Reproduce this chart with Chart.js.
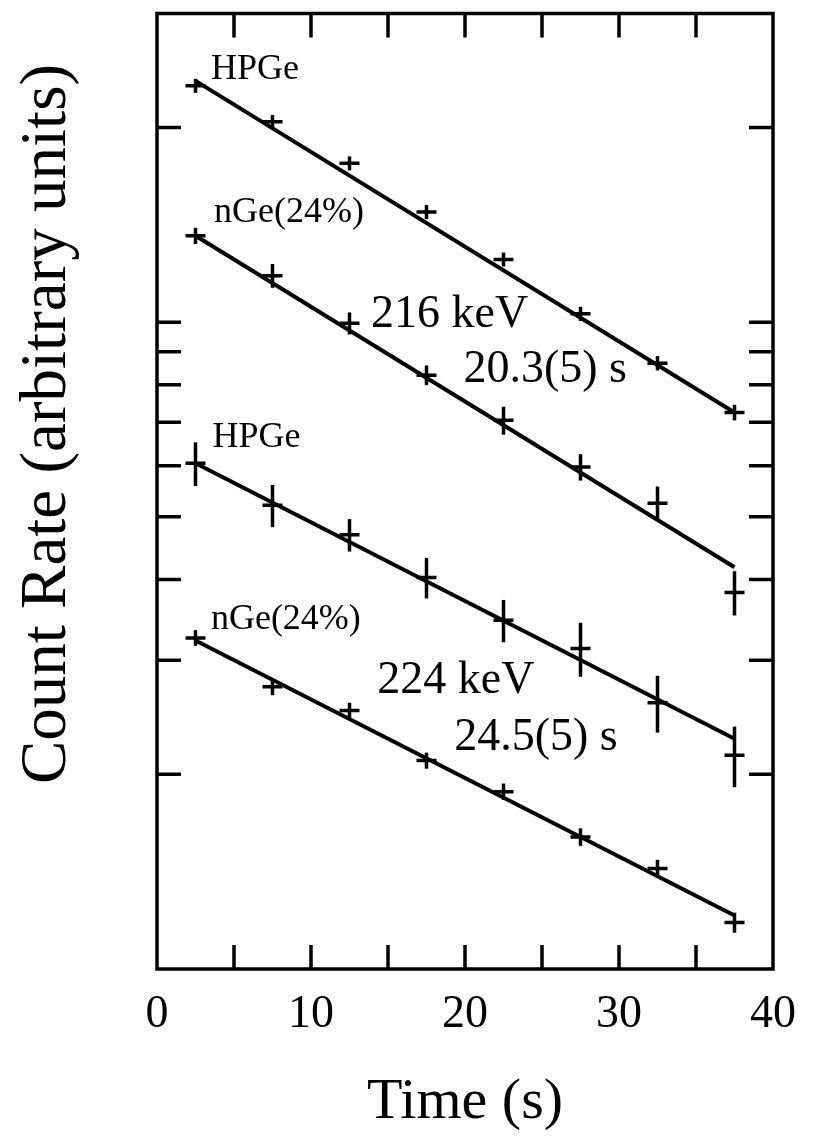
<!DOCTYPE html>
<html>
<head>
<meta charset="utf-8">
<script src="https://cdn.jsdelivr.net/npm/chart.js@4.4.1/dist/chart.umd.min.js"></script>
<style>
html,body{margin:0;padding:0;background:#fff;}
</style>
</head>
<body>
<canvas id="decayChart" width="814" height="1146"></canvas>
<script>
// time bins (s)
const times = [2.5, 7.5, 12.5, 17.5, 22.5, 27.5, 32.5, 37.5];

// 216 keV line
const hpge216 = [23.2, 20.4, 17.6, 14.8, 12.5, 10.3, 8.64, 7.25];
const hpge216Err = [0.58, 0.51, 0.44, 0.37, 0.31, 0.26, 0.22, 0.2];
const nge216 = [13.6, 11.8, 9.96, 8.28, 7.05, 5.97, 5.25, 3.82];
const nge216Err = [0.39, 0.5, 0.39, 0.29, 0.35, 0.28, 0.32, 0.3];

// 224 keV line
const hpge224 = [6.05, 5.21, 4.69, 4.03, 3.46, 3.13, 2.58, 2.14];
const hpge224Err = [0.47, 0.39, 0.27, 0.29, 0.26, 0.3, 0.26, 0.23];
const nge224 = [3.25, 2.73, 2.51, 2.1, 1.88, 1.6, 1.43, 1.18];
const nge224Err = [0.09, 0.08, 0.07, 0.06, 0.055, 0.05, 0.045, 0.042];

// fitted decay lines, end points at first and last bin
const fitTimes = [2.5, 37.5];
const fitHpge216 = [23.6, 7.25];
const fitNge216 = [13.6, 4.18];
const fitHpge224 = [6.05, 2.27];
const fitNge224 = [3.22, 1.21];

const xTicks = [5, 10, 15, 20, 25, 30, 35];
const xLabels = [0, 10, 20, 30, 40];
const yTicks = [2, 3, 4, 5, 6, 7, 8, 9, 10, 20];

const notes = [
{text:"HPGe", x:3.5, y:23.8, size:36},
{text:"nGe(24%)", x:3.7, y:14.3, size:36},
{text:"216 keV", x:13.9, y:9.82, size:46},
{text:"20.3(5) s", x:19.9, y:8.07, size:46},
{text:"HPGe", x:3.6, y:6.41, size:36},
{text:"nGe(24%)", x:3.5, y:3.36, size:36},
{text:"224 keV", x:14.3, y:2.67, size:46},
{text:"24.5(5) s", x:19.3, y:2.18, size:46}
];

const serif = "'Liberation Serif', 'Times New Roman', serif";

function points(xs, ys){
return xs.map((x,i)=>({x:x, y:ys[i]}));
}

function pointSet(ys, errs){
return {
data:points(times, ys),
errors:errs,
showLine:false,
pointStyle:"line",
pointRadius:10,
pointBorderWidth:3.5,
borderColor:"#000",
backgroundColor:"#000"
};
}

function fitSet(ys){
return {
data:points(fitTimes, ys),
showLine:true,
pointRadius:0,
borderWidth:4,
borderColor:"#000",
fill:false
};
}

const decorPlugin = {
id:"decor",
afterDatasetsDraw(chart){
const ctx = chart.ctx;
const xs = chart.scales.x;
const ys = chart.scales.y;
ctx.save();
ctx.strokeStyle = "#000";
ctx.lineWidth = 3.5;
chart.data.datasets.forEach(ds=>{
if(!ds.errors) return;
ds.data.forEach((p,i)=>{
const px = xs.getPixelForValue(p.x);
const top = ys.getPixelForValue(p.y + ds.errors[i]);
const bot = ys.getPixelForValue(p.y - ds.errors[i]);
ctx.beginPath();
ctx.moveTo(px, top);
ctx.lineTo(px, bot);
ctx.stroke();
});
});
ctx.restore();
},
afterDraw(chart){
const ctx = chart.ctx;
const a = chart.chartArea;
const xs = chart.scales.x;
const ys = chart.scales.y;
const tl = 24;
ctx.save();
ctx.strokeStyle = "#000";
ctx.lineWidth = 3.5;
ctx.strokeRect(a.left, a.top, a.right - a.left, a.bottom - a.top);
ctx.beginPath();
xTicks.forEach(v=>{
const px = xs.getPixelForValue(v);
ctx.moveTo(px, a.bottom);
ctx.lineTo(px, a.bottom - tl);
ctx.moveTo(px, a.top);
ctx.lineTo(px, a.top + tl);
});
yTicks.forEach(v=>{
const py = ys.getPixelForValue(v);
ctx.moveTo(a.left, py);
ctx.lineTo(a.left + tl, py);
ctx.moveTo(a.right, py);
ctx.lineTo(a.right - tl, py);
});
ctx.stroke();

ctx.fillStyle = "#000";
ctx.textAlign = "left";
ctx.textBaseline = "alphabetic";
notes.forEach(n=>{
ctx.font = n.size + "px " + serif;
ctx.fillText(n.text, xs.getPixelForValue(n.x), ys.getPixelForValue(n.y));
});

// y axis title
ctx.translate(48, 424);
ctx.rotate(-Math.PI/2);
ctx.textAlign = "center";
ctx.textBaseline = "middle";
ctx.font = "65px " + serif;
ctx.fillText("Count Rate (arbitrary units)", 0, 0);
ctx.restore();
}
};

new Chart(
document.getElementById("decayChart"),
{
type:"scatter",
data:{
datasets:[
pointSet(hpge216, hpge216Err),
pointSet(nge216, nge216Err),
pointSet(hpge224, hpge224Err),
pointSet(nge224, nge224Err),
fitSet(fitHpge216),
fitSet(fitNge216),
fitSet(fitHpge224),
fitSet(fitNge224)
]
},
options:{
responsive:false,
animation:false,
devicePixelRatio:1,
layout:{padding:{left:157, right:24, top:13, bottom:0}},
plugins:{legend:{display:false}, tooltip:{enabled:false}},
scales:{
x:{
type:"linear",
min:0,
max:40,
grid:{display:false, drawTicks:false},
border:{display:false},
afterFit:s=>{ s.height = 177; },
afterBuildTicks:s=>{ s.ticks = xLabels.map(v=>({value:v})); },
ticks:{
autoSkip:false,
maxRotation:0,
padding:18,
color:"#000",
font:{family:serif, size:46}
},
title:{
display:true,
text:"Time (s)",
color:"#000",
font:{family:serif, size:58},
padding:{top:0, bottom:8}
}
},
y:{
type:"logarithmic",
display:false,
min:1,
max:30
}
}
},
plugins:[decorPlugin]
}
);
</script>
</body>
</html>
